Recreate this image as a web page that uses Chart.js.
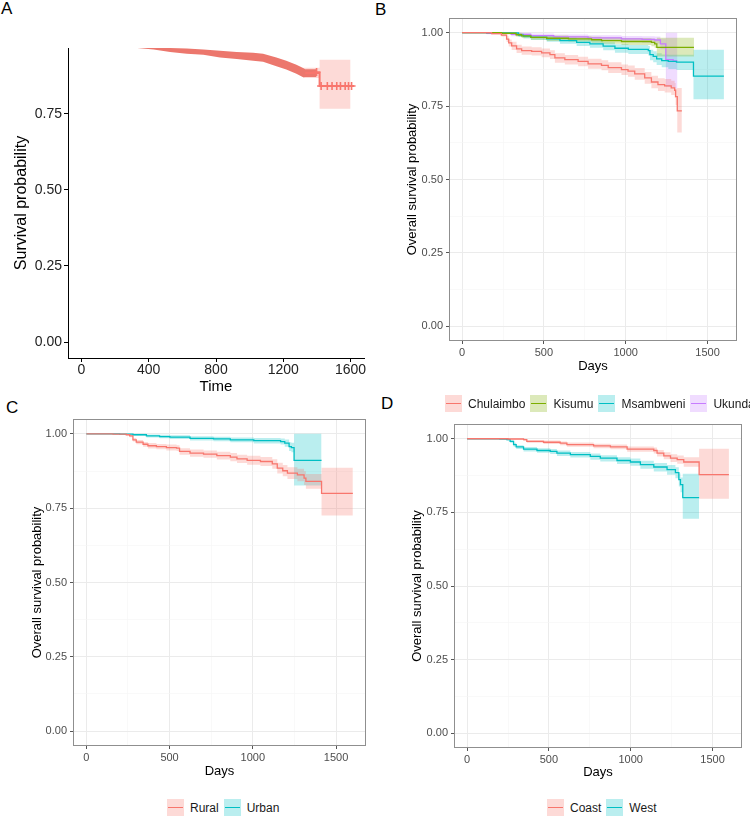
<!DOCTYPE html>
<html>
<head>
<meta charset="utf-8">
<script src="https://cdn.jsdelivr.net/npm/chart.js@4.4.1/dist/chart.umd.min.js"></script>
<style>
  html, body { margin: 0; padding: 0; background: #fff; }
  body { width: 750px; height: 816px; position: relative; overflow: hidden; font-family: "Liberation Sans", Arial, sans-serif; }
  canvas { position: absolute; }
  .tag { position: absolute; font-size: 17px; line-height: 1; color: #000; }
  .legend { position: absolute; height: 17px; display: flex; align-items: center; font-size: 12px; color: #1a1a1a; white-space: nowrap; }
  .key { position: relative; width: 17px; height: 17px; margin-right: 6px; flex: none; }
  .key i { position: absolute; left: 1px; right: 1px; top: 8px; height: 1.3px; }
  .legend span { margin-right: 5px; }
</style>
</head>
<body>
<div class="tag" style="left:1px;top:0">A</div>
<div class="tag" style="left:375px;top:1px">B</div>
<div class="tag" style="left:6px;top:399px">C</div>
<div class="tag" style="left:381px;top:395px">D</div>

<canvas id="chartA" width="375" height="400" style="left:0;top:0"></canvas>
<canvas id="chartB" width="375" height="385" style="left:375px;top:0"></canvas>
<canvas id="chartC" width="375" height="385" style="left:0;top:400px"></canvas>
<canvas id="chartD" width="375" height="385" style="left:375px;top:400px"></canvas>

<div id="legB" class="legend" style="left:445px;top:395px"></div>
<div id="legC" class="legend" style="left:167px;top:799px"></div>
<div id="legD" class="legend" style="left:547px;top:799px"></div>

<script>
// Kaplan–Meier panels A–D, step curves + CI bands
const FONT = '"Liberation Sans", Arial, sans-serif';
const RED = "#F8766D", GREEN = "#7CAE00", CYAN = "#00BFC4", PURPLE = "#C77CFF";

// axes
const DAY_TICKS = [0, 250, 500, 750, 1000, 1250, 1500];
const DAY_LABELS = ["0", "", "500", "", "1000", "", "1500"];
const PROB_TICKS = [0, 0.125, 0.25, 0.375, 0.5, 0.625, 0.75, 0.875, 1];
const PROB_LABELS = ["0.00", "", "0.25", "", "0.50", "", "0.75", "", "1.00"];
const TIME_TICKS = [0, 400, 800, 1200, 1600];
const TIME_LABELS = ["0", "400", "800", "1200", "1600"];
const SURV_TICKS = [0, 0.25, 0.5, 0.75];
const SURV_LABELS = ["0.00", "0.25", "0.50", "0.75"];

// A: overall (mass of censor marks drawn as a band)
const A_BAND_T  = [332, 429, 527, 626, 725, 824, 923, 1021, 1080, 1159, 1218, 1278, 1318, 1330, 1398];
const A_BAND_HI = [0.969, 0.969, 0.967, 0.965, 0.962, 0.958, 0.954, 0.951, 0.948, 0.936, 0.925, 0.912, 0.901, 0.897, 0.897];
const A_BAND_LO = [0.967, 0.962, 0.954, 0.948, 0.945, 0.936, 0.931, 0.925, 0.922, 0.907, 0.896, 0.882, 0.871, 0.872, 0.872];
const A_STEP_T = [1330, 1398, 1416, 1620];
const A_STEP_S = [0.885, 0.885, 0.842, 0.842];
const A_CENS_T = [1398, 1425, 1462, 1490, 1518, 1540, 1568, 1588, 1606];
const A_CENS_S = [0.888, 0.842, 0.842, 0.842, 0.842, 0.842, 0.842, 0.842, 0.842];
const A_CI_T  = [1318, 1416, 1600];
const A_CI_HI = [0.902, 0.928, 0.928];
const A_CI_LO = [0.868, 0.767, 0.767];

// B: by site
const CHU_T  = [0, 180, 240, 272, 285, 303, 333, 364, 425, 486, 537, 567, 628, 709, 770, 852, 893, 974, 1014, 1055, 1116, 1157, 1197, 1238, 1278, 1299, 1305, 1315, 1343];
const CHU_S  = [1, 0.997, 0.992, 0.978, 0.965, 0.955, 0.945, 0.939, 0.936, 0.931, 0.925, 0.914, 0.908, 0.902, 0.894, 0.889, 0.881, 0.874, 0.869, 0.860, 0.846, 0.832, 0.823, 0.819, 0.812, 0.804, 0.782, 0.734, 0.734];
const CHU_HI = [1, 1, 0.997, 0.988, 0.977, 0.969, 0.959, 0.953, 0.950, 0.946, 0.940, 0.930, 0.924, 0.918, 0.911, 0.906, 0.899, 0.892, 0.888, 0.880, 0.866, 0.853, 0.845, 0.842, 0.836, 0.829, 0.810, 0.812, 0.812];
const CHU_LO = [1, 0.994, 0.987, 0.968, 0.953, 0.941, 0.931, 0.925, 0.922, 0.916, 0.910, 0.898, 0.892, 0.886, 0.877, 0.872, 0.863, 0.856, 0.850, 0.840, 0.826, 0.811, 0.801, 0.796, 0.788, 0.779, 0.754, 0.660, 0.660];
const KIS_T  = [0, 242, 330, 364, 420, 517, 650, 791, 852, 974, 1157, 1177, 1190, 1417];
const KIS_S  = [1, 0.998, 0.993, 0.989, 0.984, 0.981, 0.979, 0.976, 0.973, 0.970, 0.967, 0.962, 0.950, 0.950];
const KIS_HI = [1, 1, 1, 0.996, 0.992, 0.990, 0.988, 0.986, 0.984, 0.982, 0.980, 0.977, 0.983, 0.983];
const KIS_LO = [1, 0.995, 0.987, 0.982, 0.976, 0.972, 0.970, 0.966, 0.962, 0.958, 0.954, 0.948, 0.919, 0.919];
const MSA_T  = [0, 200, 345, 375, 420, 517, 598, 700, 781, 862, 934, 1016, 1138, 1148, 1168, 1189, 1220, 1260, 1310, 1414, 1600];
const MSA_S  = [1, 0.999, 0.992, 0.988, 0.984, 0.979, 0.973, 0.967, 0.962, 0.954, 0.947, 0.943, 0.939, 0.925, 0.919, 0.911, 0.905, 0.902, 0.900, 0.852, 0.852];
const MSA_HI = [1, 1, 0.998, 0.995, 0.992, 0.988, 0.983, 0.978, 0.974, 0.967, 0.961, 0.958, 0.955, 0.942, 0.937, 0.930, 0.926, 0.925, 0.925, 0.942, 0.942];
const MSA_LO = [1, 0.997, 0.985, 0.980, 0.975, 0.969, 0.962, 0.955, 0.949, 0.940, 0.932, 0.927, 0.922, 0.906, 0.899, 0.890, 0.882, 0.876, 0.873, 0.773, 0.773];
const UKU_T  = [0, 150, 300, 420, 560, 770, 974, 1100, 1177, 1212, 1245, 1290, 1316];
const UKU_S  = [1, 0.998, 0.994, 0.990, 0.986, 0.982, 0.979, 0.977, 0.975, 0.962, 0.908, 0.904, 0.904];
const UKU_HI = [1, 1, 1, 0.997, 0.994, 0.991, 0.989, 0.988, 0.987, 0.980, 1, 1, 1];
const UKU_LO = [1, 0.995, 0.988, 0.983, 0.978, 0.973, 0.969, 0.966, 0.963, 0.944, 0.815, 0.810, 0.810];

// C: rural / urban
const RUR_T  = [0, 160, 240, 260, 280, 300, 341, 370, 421, 481, 542, 560, 623, 704, 784, 865, 905, 966, 1046, 1117, 1147, 1180, 1208, 1268, 1308, 1319, 1413, 1601];
const RUR_S  = [1, 0.999, 0.997, 0.993, 0.980, 0.972, 0.965, 0.960, 0.957, 0.954, 0.952, 0.941, 0.935, 0.932, 0.927, 0.922, 0.916, 0.911, 0.907, 0.899, 0.885, 0.876, 0.868, 0.862, 0.851, 0.840, 0.800, 0.800];
const RUR_HI = [1, 1, 0.999, 0.997, 0.986, 0.979, 0.973, 0.969, 0.966, 0.964, 0.962, 0.952, 0.947, 0.944, 0.940, 0.936, 0.930, 0.926, 0.922, 0.915, 0.903, 0.895, 0.888, 0.883, 0.874, 0.865, 0.886, 0.886];
const RUR_LO = [1, 0.998, 0.995, 0.989, 0.974, 0.965, 0.957, 0.951, 0.948, 0.944, 0.942, 0.930, 0.923, 0.920, 0.914, 0.908, 0.902, 0.896, 0.892, 0.883, 0.867, 0.857, 0.848, 0.841, 0.828, 0.815, 0.725, 0.725];
const URB_T  = [0, 200, 280, 361, 440, 502, 623, 764, 865, 1006, 1167, 1192, 1218, 1232, 1248, 1413];
const URB_S  = [1, 0.999, 0.997, 0.993, 0.991, 0.989, 0.985, 0.983, 0.980, 0.977, 0.974, 0.969, 0.957, 0.954, 0.911, 0.911];
const URB_HI = [1, 1, 1, 0.998, 0.997, 0.995, 0.992, 0.990, 0.988, 0.986, 0.984, 0.981, 0.972, 0.970, 1, 1];
const URB_LO = [1, 0.998, 0.994, 0.988, 0.985, 0.983, 0.978, 0.975, 0.972, 0.968, 0.964, 0.957, 0.942, 0.938, 0.826, 0.826];

// D: coast / west
const COA_T  = [0, 250, 345, 365, 467, 569, 610, 773, 876, 978, 1141, 1161, 1202, 1243, 1284, 1324, 1418, 1600];
const COA_S  = [1, 0.999, 0.997, 0.991, 0.988, 0.985, 0.980, 0.976, 0.972, 0.965, 0.960, 0.951, 0.942, 0.934, 0.929, 0.921, 0.878, 0.878];
const COA_HI = [1, 1, 1, 0.996, 0.994, 0.991, 0.987, 0.983, 0.980, 0.974, 0.970, 0.962, 0.954, 0.947, 0.943, 0.937, 0.966, 0.966];
const COA_LO = [1, 0.998, 0.993, 0.986, 0.982, 0.978, 0.973, 0.968, 0.964, 0.956, 0.950, 0.940, 0.930, 0.921, 0.915, 0.905, 0.796, 0.796];
const WES_T  = [0, 200, 243, 263, 284, 300, 345, 427, 508, 549, 631, 753, 814, 916, 998, 1059, 1141, 1222, 1273, 1294, 1304, 1318, 1418];
const WES_S  = [1, 0.999, 0.997, 0.991, 0.980, 0.972, 0.965, 0.960, 0.957, 0.951, 0.946, 0.940, 0.934, 0.926, 0.921, 0.912, 0.904, 0.895, 0.885, 0.861, 0.844, 0.800, 0.800];
const WES_HI = [1, 1, 0.999, 0.995, 0.986, 0.978, 0.972, 0.968, 0.965, 0.960, 0.955, 0.950, 0.944, 0.937, 0.933, 0.925, 0.918, 0.911, 0.903, 0.882, 0.868, 0.881, 0.881];
const WES_LO = [1, 0.998, 0.994, 0.986, 0.973, 0.965, 0.957, 0.952, 0.948, 0.941, 0.936, 0.929, 0.923, 0.914, 0.908, 0.898, 0.889, 0.878, 0.866, 0.838, 0.818, 0.728, 0.728];

function pts(t, s) { return t.map((x, i) => ({ x: x, y: s[i] })); }

function ci(color) {
  const h = color.replace("#", "");
  const n = [0, 2, 4].map((k) => parseInt(h.substr(k, 2), 16));
  return "rgba(" + n.join(",") + ",0.27)";
}

// line on top, band (upper + lower filled to upper) underneath
function curve(t, s, lo, hi, color) {
  return [
    { data: pts(t, s), stepped: "before", borderColor: color, borderWidth: 1.3, pointRadius: 0, fill: false, order: 0 },
    { data: pts(t, hi), stepped: "before", borderWidth: 0, borderColor: "rgba(0,0,0,0)", pointRadius: 0, fill: false, order: 1 },
    { data: pts(t, lo), stepped: "before", borderWidth: 0, borderColor: "rgba(0,0,0,0)", pointRadius: 0, fill: "-1", backgroundColor: ci(color), order: 1 },
  ];
}

const panelBorder = {
  id: "panelBorder",
  afterDatasetsDraw(chart, args, o) {
    if (!o || !o.color) return;
    const a = chart.chartArea, ctx = chart.ctx;
    ctx.save();
    ctx.strokeStyle = o.color;
    ctx.lineWidth = 1;
    ctx.strokeRect(Math.round(a.left) + 0.5, Math.round(a.top) + 0.5,
      Math.round(a.right - a.left) - 1, Math.round(a.bottom - a.top) - 1);
    ctx.restore();
  },
};

function bwChart(id, datasets, lay) {
  const dayMajor = (c) => DAY_LABELS[c.index] !== "";
  const probMajor = (c) => PROB_LABELS[c.index] !== "";
  new Chart(document.getElementById(id), {
    type: "line",
    data: { datasets: datasets },
    plugins: [panelBorder],
    options: {
      responsive: false, animation: false, events: [],
      layout: { padding: { top: lay.top, right: lay.right, left: 0, bottom: 0 } },
      plugins: { legend: { display: false }, tooltip: { enabled: false }, panelBorder: { color: "#8f8f8f" } },
      scales: {
        x: {
          type: "linear", bounds: "data", min: -80, max: 1680,
          afterBuildTicks: (s) => { s.ticks = DAY_TICKS.map((v) => ({ value: v })); },
          afterFit: (s) => { s.height = lay.xh; },
          border: { display: false },
          grid: {
            color: (c) => dayMajor(c) ? "#EBEBEB" : "#F5F5F5",
            lineWidth: (c) => dayMajor(c) ? 1 : 0.6,
            tickColor: (c) => dayMajor(c) ? "#555" : "rgba(0,0,0,0)",
            tickLength: 3,
          },
          ticks: { autoSkip: false, maxRotation: 0, padding: 2, color: "#4D4D4D",
            font: { family: FONT, size: 11 }, callback: (v, i) => DAY_LABELS[i] },
          title: { display: true, text: "Days", color: "#000", font: { family: FONT, size: 13 },
            padding: { top: 0, bottom: lay.xtp } },
        },
        y: {
          type: "linear", bounds: "data", min: -0.05, max: 1.05,
          afterBuildTicks: (s) => { s.ticks = PROB_TICKS.map((v) => ({ value: v })); },
          afterFit: (s) => { s.width = lay.yw; },
          border: { display: false },
          grid: {
            color: (c) => probMajor(c) ? "#EBEBEB" : "#F5F5F5",
            lineWidth: (c) => probMajor(c) ? 1 : 0.6,
            tickColor: (c) => probMajor(c) ? "#555" : "rgba(0,0,0,0)",
            tickLength: 3,
          },
          ticks: { autoSkip: false, padding: 3, color: "#4D4D4D",
            font: { family: FONT, size: 11 }, callback: (v, i) => PROB_LABELS[i] },
          title: { display: true, text: "Overall survival probability", color: "#000",
            font: { family: FONT, size: 13 }, padding: { top: lay.ytp, bottom: 0 } },
        },
      },
    },
  });
}

function legend(id, names, colors) {
  const el = document.getElementById(id);
  names.forEach((n, i) => {
    el.insertAdjacentHTML("beforeend",
      '<div class="key" style="background:' + ci(colors[i]) + '"><i style="background:' + colors[i] + '"></i></div>' +
      "<span>" + n + "</span>");
  });
}

// A — classic theme
new Chart(document.getElementById("chartA"), {
  type: "line",
  data: {
    datasets: [
      { data: pts(A_CENS_T, A_CENS_S), showLine: false, pointStyle: "cross", pointRadius: 4,
        pointBorderWidth: 1.6, pointBorderColor: RED, order: 0 },
      { data: pts(A_STEP_T, A_STEP_S), stepped: "before", borderColor: RED, borderWidth: 2, pointRadius: 0, fill: false, order: 0 },
      { data: pts(A_BAND_T, A_BAND_HI), borderWidth: 0, borderColor: "rgba(0,0,0,0)", pointRadius: 0, fill: false, order: 0 },
      { data: pts(A_BAND_T, A_BAND_LO), borderWidth: 0, borderColor: "rgba(0,0,0,0)", pointRadius: 0, fill: "-1",
        backgroundColor: "#EC776D", order: 0 },
      { data: pts(A_CI_T, A_CI_HI), stepped: "before", borderWidth: 0, borderColor: "rgba(0,0,0,0)", pointRadius: 0, fill: false, order: 1 },
      { data: pts(A_CI_T, A_CI_LO), stepped: "before", borderWidth: 0, borderColor: "rgba(0,0,0,0)", pointRadius: 0, fill: "-1",
        backgroundColor: ci(RED), order: 1 },
    ],
  },
  options: {
    responsive: false, animation: false, events: [],
    layout: { padding: { top: 48, right: 11, left: 0, bottom: 0 } },
    plugins: { legend: { display: false }, tooltip: { enabled: false } },
    scales: {
      x: {
        type: "linear", bounds: "data", min: -80, max: 1680,
        afterBuildTicks: (s) => { s.ticks = TIME_TICKS.map((v) => ({ value: v })); },
        afterFit: (s) => { s.height = 42; },
        border: { display: true, color: "#000", width: 1 },
        grid: { display: true, drawOnChartArea: false, drawTicks: true, tickLength: 4, tickColor: "#000" },
        ticks: { autoSkip: false, maxRotation: 0, padding: 0, color: "#222",
          font: { family: FONT, size: 14 }, callback: (v, i) => TIME_LABELS[i] },
        title: { display: true, text: "Time", color: "#000", font: { family: FONT, size: 15 },
          padding: { top: 0, bottom: 4 } },
      },
      y: {
        type: "linear", bounds: "data", min: -0.0526, max: 0.967,
        afterBuildTicks: (s) => { s.ticks = SURV_TICKS.map((v) => ({ value: v })); },
        afterFit: (s) => { s.width = 68; },
        border: { display: true, color: "#000", width: 1 },
        grid: { display: true, drawOnChartArea: false, drawTicks: true, tickLength: 4, tickColor: "#000" },
        ticks: { autoSkip: false, padding: 2, color: "#222",
          font: { family: FONT, size: 14 }, callback: (v, i) => SURV_LABELS[i] },
        title: { display: true, text: "Survival probability", color: "#000", font: { family: FONT, size: 16 },
          padding: { top: 12.4, bottom: 0 } },
      },
    },
  },
});

bwChart("chartB", [].concat(
  curve(CHU_T, CHU_S, CHU_LO, CHU_HI, RED),
  curve(KIS_T, KIS_S, KIS_LO, KIS_HI, GREEN),
  curve(MSA_T, MSA_S, MSA_LO, MSA_HI, CYAN),
  curve(UKU_T, UKU_S, UKU_LO, UKU_HI, PURPLE)
), { top: 18, right: 13, yw: 74, xh: 44, ytp: 29.2, xtp: 11.2 });

bwChart("chartC", [].concat(
  curve(RUR_T, RUR_S, RUR_LO, RUR_HI, RED),
  curve(URB_T, URB_S, URB_LO, URB_HI, CYAN)
), { top: 19, right: 9, yw: 73, xh: 39, ytp: 29.2, xtp: 6.2 });

bwChart("chartD", [].concat(
  curve(COA_T, COA_S, COA_LO, COA_HI, RED),
  curve(WES_T, WES_S, WES_LO, WES_HI, CYAN)
), { top: 24, right: 8, yw: 79, xh: 37, ytp: 34.2, xtp: 5.2 });

legend("legB", ["Chulaimbo", "Kisumu", "Msambweni", "Ukunda"], [RED, GREEN, CYAN, PURPLE]);
legend("legC", ["Rural", "Urban"], [RED, CYAN]);
legend("legD", ["Coast", "West"], [RED, CYAN]);
</script>
</body>
</html>
